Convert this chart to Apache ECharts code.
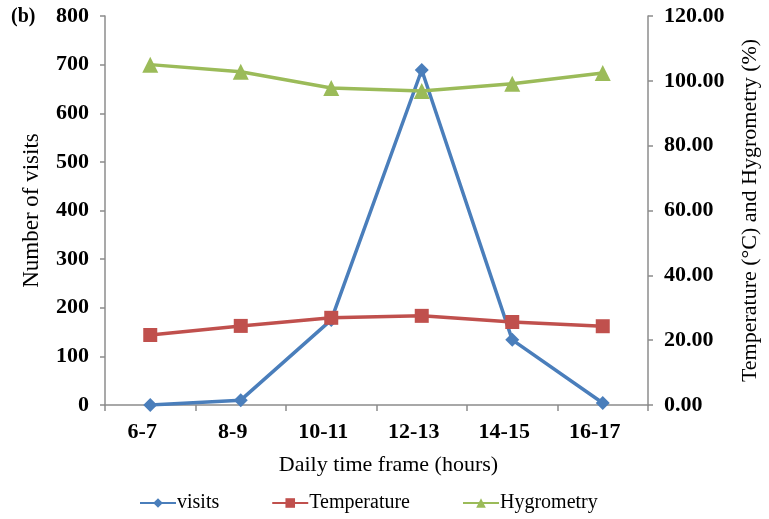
<!DOCTYPE html>
<html>
<head>
<meta charset="utf-8">
<script src="https://cdn.jsdelivr.net/npm/echarts@6/dist/echarts.min.js"></script>
<style>
  html, body { margin: 0; padding: 0; background: #fff; }
  #chart { width: 769px; height: 519px; }
</style>
</head>
<body>
<div id="chart"></div>
<script>
// data
const timeFrames = ['6-7', '8-9', '10-11', '12-13', '14-15', '16-17']
const visits = [0, 10, 175, 689, 134, 4]
const temperature = [21.6, 24.4, 26.9, 27.5, 25.6, 24.3]
const hygrometry = [105.0, 102.8, 97.8, 96.9, 99.1, 102.4]

const font = 'Liberation Serif'
const axisGrey = '#8c8c8c'

const chart = echarts.init(document.getElementById('chart'))

const option = {
    animation: false,
    textStyle: { fontFamily: font, color: '#000' },
    graphic: [{
        type: 'text',
        left: 11,
        top: 7,
        style: { text: '(b)', font: 'bold 20px "Liberation Serif"', fill: '#000' }
    }],
    grid: { left: 105, right: 117, top: 16, bottom: 114 },
    legend: {
        top: 488,
        left: 134,
        itemGap: 52,
        itemWidth: 36,
        itemHeight: 12,
        textStyle: { fontFamily: font, fontSize: 20, color: '#000', padding: [0, 0, 0, -4] },
        data: ['visits', 'Temperature', 'Hygrometry']
    },
    xAxis: {
        type: 'category',
        data: timeFrames,
        boundaryGap: true,
        name: 'Daily time frame (hours)',
        nameLocation: 'middle',
        nameGap: 49,
        nameTextStyle: { fontFamily: font, fontSize: 22, color: '#000', padding: [0, 0, 0, 24] },
        axisLine: { lineStyle: { color: axisGrey, width: 1.5 } },
        axisTick: { show: true, length: 6, lineStyle: { color: axisGrey, width: 1.5 } },
        axisLabel: {
            fontFamily: font, fontSize: 22, fontWeight: 'bold', color: '#000', margin: 16,
            padding: [0, 16, 0, 0]
        }
    },
    yAxis: [
        {
            type: 'value',
            min: 0,
            max: 800,
            interval: 100,
            name: 'Number of visits',
            nameLocation: 'middle',
            nameGap: 62,
            nameTextStyle: { fontFamily: font, fontSize: 23, color: '#000' },
            axisLine: { show: true, lineStyle: { color: axisGrey, width: 1.5 } },
            axisTick: { show: true, length: 5, lineStyle: { color: axisGrey, width: 1.5 } },
            axisLabel: { fontFamily: font, fontSize: 22, fontWeight: 'bold', color: '#000', margin: 16 },
            splitLine: { show: false }
        },
        {
            type: 'value',
            min: 0,
            max: 120,
            interval: 20,
            position: 'right',
            name: 'Temperature (°C) and Hygrometry (%)',
            nameLocation: 'middle',
            nameGap: 91,
            nameRotate: 90,
            nameTextStyle: { fontFamily: font, fontSize: 22, color: '#000' },
            axisLine: { show: true, lineStyle: { color: axisGrey, width: 1.5 } },
            axisTick: { show: true, length: 5, lineStyle: { color: axisGrey, width: 1.5 } },
            axisLabel: {
                fontFamily: font, fontSize: 22, fontWeight: 'bold', color: '#000', margin: 16,
                formatter: v => v.toFixed(2)
            },
            splitLine: { show: false }
        }
    ],
    series: [
        {
            name: 'visits',
            type: 'line',
            yAxisIndex: 0,
            data: visits,
            color: '#4a7ebb',
            lineStyle: { width: 3.5 },
            symbol: 'diamond',
            symbolSize: 14
        },
        {
            name: 'Temperature',
            type: 'line',
            yAxisIndex: 1,
            data: temperature,
            color: '#c0504d',
            lineStyle: { width: 3.5 },
            symbol: 'rect',
            symbolSize: 14
        },
        {
            name: 'Hygrometry',
            type: 'line',
            yAxisIndex: 1,
            data: hygrometry,
            color: '#9bbb59',
            lineStyle: { width: 3.5 },
            symbol: 'triangle',
            symbolSize: 16
        }
    ]
}

chart.setOption(option)
</script>
</body>
</html>
